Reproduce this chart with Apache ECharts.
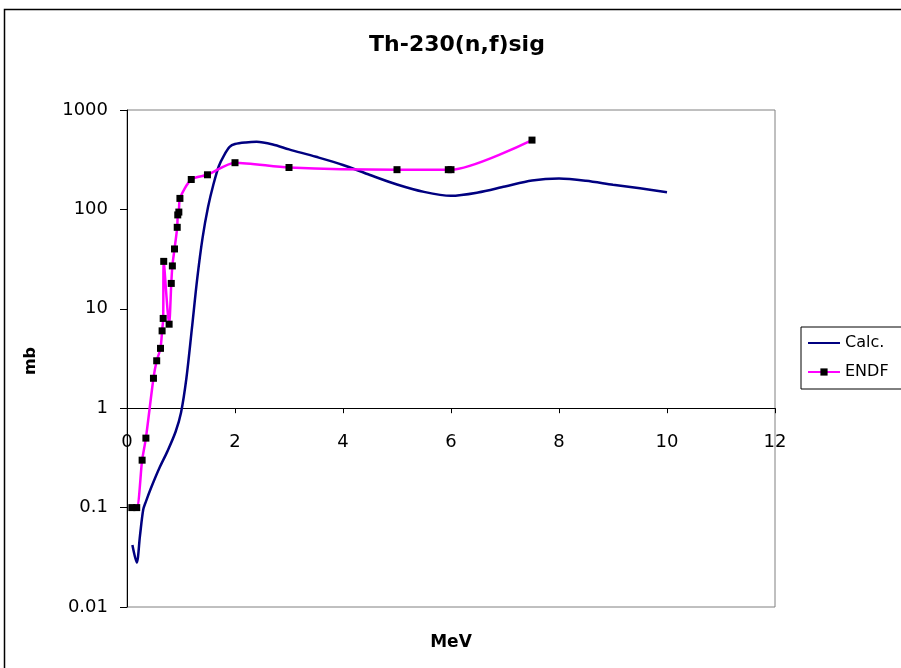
<!DOCTYPE html>
<html>
<head>
<meta charset="utf-8">
<script src="https://cdn.jsdelivr.net/npm/echarts@6/dist/echarts.min.js"></script>
<style>html,body{margin:0;padding:0;background:#fff;}#c{width:901px;height:668px;}</style>
</head>
<body>
<div id="c"></div>
<script>
const titleText = 'Th-230(n,f)sig';
const xName = 'MeV';
const yName = 'mb';
const xTicks = { min: 0, max: 12, interval: 2 };
const yTicks = { min: 0.01, max: 1000 };

const calcE = [0.1, 0.18, 0.24, 0.3, 0.35, 0.45, 0.6, 0.75, 0.9, 1.0, 1.1, 1.2, 1.3, 1.4, 1.5, 1.6, 1.7, 1.8, 1.9, 2.0, 2.2, 2.4, 2.7, 3.0, 3.5, 4.0, 4.5, 5.0, 5.5, 6.0, 6.5, 7.0, 7.5, 8.0, 8.5, 9.0, 9.5, 10.0];
const calcV = [0.042, 0.028, 0.052, 0.095, 0.115, 0.16, 0.25, 0.37, 0.58, 0.9, 2.0, 6.2, 20, 52, 105, 178, 272, 352, 425, 455, 472, 478, 450, 402, 338, 280, 222, 178, 150, 137, 148, 170, 195, 204, 194, 177, 163, 149];

const endfE = [0.09, 0.18, 0.28, 0.35, 0.49, 0.55, 0.62, 0.65, 0.67, 0.68, 0.78, 0.82, 0.84, 0.88, 0.93, 0.94, 0.96, 0.98, 1.19, 1.49, 2.0, 3.0, 5.0, 5.95, 6.0, 7.5];
const endfV = [0.1, 0.1, 0.3, 0.5, 2, 3, 4, 6, 8, 30, 7, 18, 27, 40, 66, 88, 94, 129, 200, 223, 295, 264, 251, 251, 251, 498];

const calcData = calcE.map((e, i) => [e, calcV[i]]);
const endfData = endfE.map((e, i) => [e, endfV[i]]);

const FONT = 'DejaVu Sans';
const chart = echarts.init(document.getElementById('c'), null, { renderer: 'canvas' });

// plot area geometry
const gLeft = 127, gTop = 110, gW = 648, gH = 497;
const decades = Math.log10(yTicks.max) - Math.log10(yTicks.min);
const yAtOne = gTop + gH * (Math.log10(yTicks.max) / decades);
const xOffset = -(gTop + gH - yAtOne);

chart.setOption({
  animation: false,
  backgroundColor: '#fff',
  title: {
    text: titleText,
    left: 457, top: 34, padding: 0, textAlign: 'center',
    textStyle: { fontFamily: FONT, fontSize: 22, fontWeight: 'bold', color: '#000' }
  },
  grid: {
    left: gLeft, top: gTop, width: gW, height: gH,
    show: true, borderColor: '#808080', borderWidth: 1, backgroundColor: 'transparent'
  },
  legend: {
    orient: 'vertical', left: 801, top: 327,
    padding: [8, 40, 9, 6],
    itemWidth: 32, itemHeight: 9, itemGap: 13,
    borderColor: '#000', borderWidth: 1, backgroundColor: '#fff',
    textStyle: { fontFamily: FONT, fontSize: 16, color: '#000' },
    data: [{ name: 'Calc.', itemStyle: { opacity: 0 } }, 'ENDF']
  },
  xAxis: {
    type: 'value', min: xTicks.min, max: xTicks.max, interval: xTicks.interval,
    position: 'bottom', offset: xOffset,
    axisLine: { show: true, onZero: false, lineStyle: { color: '#000', width: 1 } },
    axisTick: { show: true, length: 5, lineStyle: { color: '#000' } },
    axisLabel: { margin: 25, fontFamily: FONT, fontSize: 18, color: '#000' },
    splitLine: { show: false }
  },
  yAxis: {
    type: 'log', logBase: 10, min: yTicks.min, max: yTicks.max,
    axisLine: { show: true, lineStyle: { color: '#000', width: 1 } },
    axisTick: { show: true, length: 7, lineStyle: { color: '#000' } },
    axisLabel: {
      margin: 19, fontFamily: FONT, fontSize: 18, color: '#000', padding: [6, 0, 0, 0],
      formatter: v => String(Number(Number(v).toPrecision(3)))
    },
    splitLine: { show: false }
  },
  graphic: [
    { type: 'rect', shape: { x: 4.5, y: 9.5, width: 1000, height: 1000 },
      style: { fill: 'none', stroke: '#000', lineWidth: 1.5 }, silent: true, z: -10 },
    { type: 'text', x: 451, y: 643, style: { text: xName, align: 'center', verticalAlign: 'middle',
      font: 'bold 17px "DejaVu Sans"', fill: '#000' } },
    { type: 'text', x: 31, y: 361, rotation: Math.PI / 2, style: { text: yName, align: 'center', verticalAlign: 'middle',
      font: 'bold 16px "DejaVu Sans"', fill: '#000' } }
  ],
  series: [
    {
      name: 'Calc.', type: 'line', data: calcData, smooth: 0.3,
      showSymbol: false, symbol: 'none',
      lineStyle: { color: '#000080', width: 2.5 }, itemStyle: { color: '#000080' }, z: 2
    },
    {
      name: 'ENDF', type: 'line', data: endfData, smooth: 0.25,
      symbol: 'rect', symbolSize: 7,
      lineStyle: { color: '#FF00FF', width: 2.5 },
      itemStyle: { color: '#000', borderWidth: 0 }, z: 3
    }
  ]
});
</script>
</body>
</html>
